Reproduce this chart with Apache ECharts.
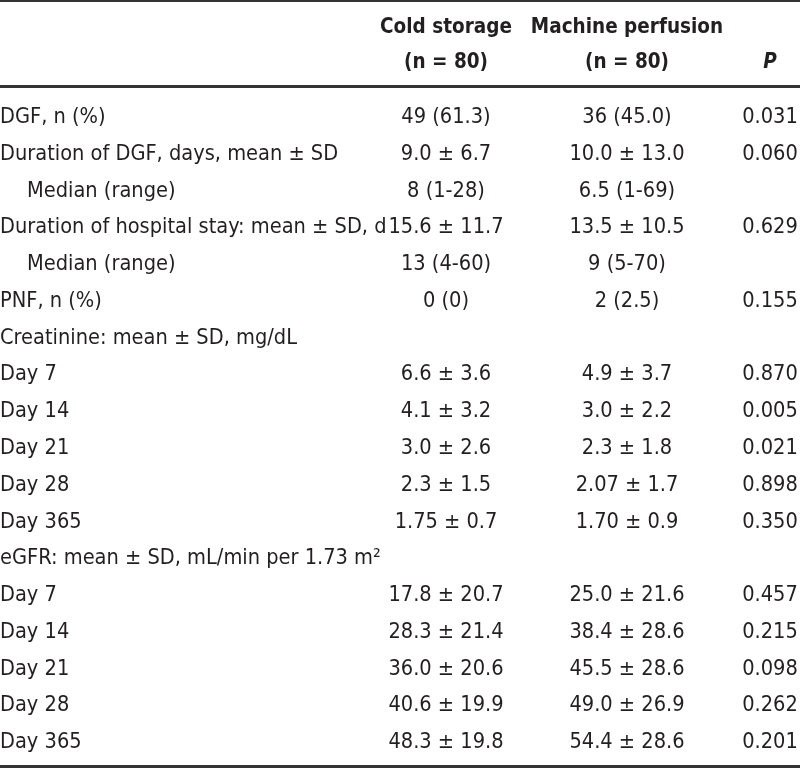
<!DOCTYPE html>
<html><head><meta charset="utf-8">
<script src="https://cdn.jsdelivr.net/npm/echarts@6/dist/echarts.min.js"></script>
<style>html,body{margin:0;padding:0;background:#fff}#c{width:800px;height:768px}</style>
</head><body><div id="c"></div>
<script>
// ---- data ----
const rowLabels = [
  'DGF, n (%)',
  'Duration of DGF, days, mean ± SD',
  'Median (range)',
  'Duration of hospital stay: mean ± SD, d',
  'Median (range)',
  'PNF, n (%)',
  'Creatinine: mean ± SD, mg/dL',
  'Day 7', 'Day 14', 'Day 21', 'Day 28', 'Day 365',
  'eGFR: mean ± SD, mL/min per 1.73 m²',
  'Day 7', 'Day 14', 'Day 21', 'Day 28', 'Day 365'
];
const indentedRows = [2, 4];
const coldStorage = ['49 (61.3)', '9.0 ± 6.7', '8 (1-28)', '15.6 ± 11.7', '13 (4-60)', '0 (0)', '',
  '6.6 ± 3.6', '4.1 ± 3.2', '3.0 ± 2.6', '2.3 ± 1.5', '1.75 ± 0.7', '',
  '17.8 ± 20.7', '28.3 ± 21.4', '36.0 ± 20.6', '40.6 ± 19.9', '48.3 ± 19.8'];
const machinePerfusion = ['36 (45.0)', '10.0 ± 13.0', '6.5 (1-69)', '13.5 ± 10.5', '9 (5-70)', '2 (2.5)', '',
  '4.9 ± 3.7', '3.0 ± 2.2', '2.3 ± 1.8', '2.07 ± 1.7', '1.70 ± 0.9', '',
  '25.0 ± 21.6', '38.4 ± 28.6', '45.5 ± 28.6', '49.0 ± 26.9', '54.4 ± 28.6'];
const pValues = ['0.031', '0.060', '', '0.629', '', '0.155', '',
  '0.870', '0.005', '0.021', '0.898', '0.350', '',
  '0.457', '0.215', '0.098', '0.262', '0.201'];
const headerRows = ['line1', 'line2'];
const headerCold = ['Cold storage', '(n = 80)'];
const headerMachine = ['Machine perfusion', '(n = 80)'];
const headerP = ['', 'P'];

// ---- layout / style ----
const FONT = "'Liberation Sans Narrow','DejaVu Sans Condensed',sans-serif";
const COLOR = '#231f20';
const FS = 21.6;
const FS_HEAD = 20.5;
const X_LABEL = 0, X_INDENT = 27, X_COLD = 446, X_MACH = 627, X_P = 770;

function cells(texts, x, grid, opts) {
  opts = opts || {};
  return {
    type: 'scatter', xAxisIndex: grid, yAxisIndex: grid, symbolSize: 0, silent: true,
    itemStyle: { opacity: 1 },
    data: texts.map((t, i) => ({ value: [typeof x === 'function' ? x(i) : x, i, t] })).filter(d => d.value[2] !== ''),
    label: {
      show: true, position: opts.position || 'inside', distance: 0,
      formatter: p => p.value[2],
      fontFamily: FONT, fontSize: opts.fontSize || FS, color: COLOR, opacity: 1,
      fontWeight: opts.fontWeight || 'normal', fontStyle: opts.fontStyle || 'normal'
    }
  };
}

const chart = echarts.init(document.getElementById('c'), null, { renderer: 'canvas' });
const hidden = { show: false };
chart.setOption({
  animation: false,
  backgroundColor: '#fff',
  grid: [
    { left: 0, right: 0, top: 99, bottom: 7 },
    { left: 0, right: 0, top: 10, height: 70 }
  ],
  xAxis: [
    { type: 'value', min: 0, max: 800, gridIndex: 0, axisLine: hidden, axisTick: hidden, axisLabel: hidden, splitLine: hidden },
    { type: 'value', min: 0, max: 800, gridIndex: 1, axisLine: hidden, axisTick: hidden, axisLabel: hidden, splitLine: hidden }
  ],
  yAxis: [
    { type: 'category', inverse: true, gridIndex: 0, data: rowLabels.map((_, i) => i), axisLine: hidden, axisTick: hidden, axisLabel: hidden, splitLine: hidden },
    { type: 'category', inverse: true, gridIndex: 1, data: headerRows, axisLine: hidden, axisTick: hidden, axisLabel: hidden, splitLine: hidden }
  ],
  series: [
    cells(rowLabels, i => indentedRows.includes(i) ? X_INDENT : X_LABEL, 0, { position: 'right' }),
    cells(coldStorage, X_COLD, 0),
    cells(machinePerfusion, X_MACH, 0),
    cells(pValues, X_P, 0),
    cells(headerCold, X_COLD, 1, { fontWeight: 'bold', fontSize: FS_HEAD }),
    cells(headerMachine, X_MACH, 1, { fontWeight: 'bold', fontSize: FS_HEAD }),
    cells(headerP, X_P, 1, { fontWeight: 'bold', fontStyle: 'italic', fontSize: FS_HEAD })
  ],
  graphic: [
    { type: 'line', shape: { x1: 0, y1: 1, x2: 800, y2: 1 }, style: { stroke: '#333', lineWidth: 2 }, silent: true },
    { type: 'line', shape: { x1: 0, y1: 86.5, x2: 800, y2: 86.5 }, style: { stroke: '#333', lineWidth: 3 }, silent: true },
    { type: 'line', shape: { x1: 0, y1: 766.5, x2: 800, y2: 766.5 }, style: { stroke: '#333', lineWidth: 3 }, silent: true }
  ]
});
</script></body></html>
